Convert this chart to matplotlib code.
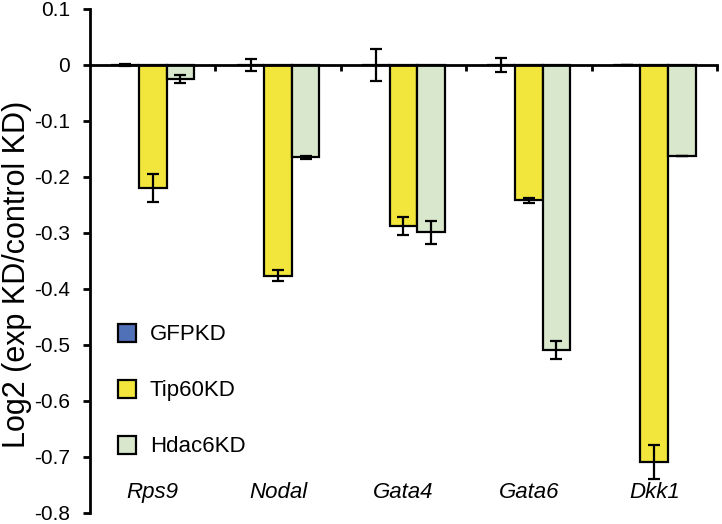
import numpy as np
import matplotlib
matplotlib.use("Agg")
from matplotlib import pyplot as plt
from matplotlib.patches import Patch

plt.rcParams['font.family'] = ['Liberation Sans', 'DejaVu Sans']

genes = ['Rps9', 'Nodal', 'Gata4', 'Gata6', 'Dkk1']
series = ['GFPKD', 'Tip60KD', 'Hdac6KD']
gfp = [0.0, 0.0, 0.0, 0.0, 0.0]
gfp_err = [0.002, 0.01, 0.029, 0.012, 0.0]
tip60 = [-0.219, -0.376, -0.288, -0.242, -0.709]
tip60_err = [0.025, 0.01, 0.016, 0.004, 0.03]
hdac6 = [-0.025, -0.165, -0.299, -0.509, -0.162]
hdac6_err = [0.007, 0.003, 0.02, 0.016, 0.0]
colors = ['#5070b8', '#f2e63c', '#d9e8cd']

fig = plt.figure(figsize=(7.22, 5.24), dpi=100)
ax = fig.add_axes([0.1247, 0.021, 0.8683, 0.962])

x = np.arange(len(genes))
w = 0.22
for i, (vals, errs) in enumerate([(gfp, gfp_err), (tip60, tip60_err), (hdac6, hdac6_err)]):
    ax.bar(x + (i - 1) * w, vals, width=w, color=colors[i], edgecolor='black', linewidth=1.6, zorder=2)
    ax.errorbar(x + (i - 1) * w, vals, yerr=errs, fmt='none', ecolor='black',
                elinewidth=1.6, capsize=4, capthick=1.6, zorder=3)

ax.set_xlim(-0.5, len(genes) - 0.5)
ax.set_ylim(-0.8, 0.1)
ax.set_yticks(np.arange(-0.8, 0.11, 0.1))
ax.set_yticklabels(['-0.8', '-0.7', '-0.6', '-0.5', '-0.4', '-0.3', '-0.2', '-0.1', '0', '0.1'])
ax.tick_params(axis='y', labelsize=15, width=2, length=5, direction='out', pad=9.5)

ax.spines['top'].set_visible(False)
ax.spines['right'].set_visible(False)
ax.spines['left'].set_linewidth(2)
ax.spines['bottom'].set_position(('data', 0))
ax.spines['bottom'].set_linewidth(2)
ax.set_xticks(np.arange(-0.5, len(genes), 1.0)[1:])
ax.set_xticklabels([])
ax.tick_params(axis='x', width=2, length=4, direction='out')

for xi, g in zip(x, genes):
    ax.text(xi, -0.763, g, ha='center', va='center', fontsize=16, style='italic')

ax.set_ylabel('Log2 (exp KD/control KD)', fontsize=22)
ax.yaxis.set_label_coords(-0.092, 0.474)

handles = [Patch(facecolor=c, edgecolor='black', linewidth=1.6) for c in colors]
ax.legend(handles, series, loc='upper left', bbox_to_anchor=(0.012, 0.415), frameon=False,
          fontsize=16, handlelength=0.85, handleheight=0.85, labelspacing=1.55, handletextpad=0.6)

fig.savefig('out.png', dpi=100)
